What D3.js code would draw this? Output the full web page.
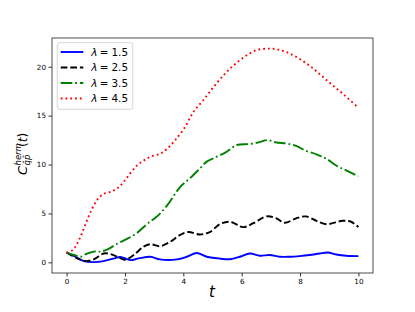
<!DOCTYPE html>
<html>
<head>
<meta charset="utf-8">
<script src="https://cdn.jsdelivr.net/npm/d3@7"></script>
<style>
  body { margin: 0; background: #fff; }
  svg { display: block; font-family: "DejaVu Sans", sans-serif; }
</style>
</head>
<body>
<svg id="chart" width="415" height="312"></svg>
<script>
// ---- data ----
const labels = ["1.5", "2.5", "3.5", "4.5"];
const colors = ["#0000ff", "#000000", "#008000", "#ff0000"];

const tBlue = [0, 0.31, 0.59, 0.93, 1.27, 1.62, 1.84, 2.18, 2.47, 2.87, 3.2, 3.78, 4.12, 4.46, 4.8, 5.2, 5.6, 5.94, 6.28, 6.62, 6.96, 7.3, 7.65, 7.99, 8.33, 8.67, 8.95, 9.24, 9.58, 10];
const vBlue = [1.0, 0.57, 0.13, 0.02, 0.13, 0.4, 0.55, 0.23, 0.4, 0.57, 0.3, 0.3, 0.57, 0.95, 0.57, 0.4, 0.32, 0.57, 0.9, 0.67, 0.75, 0.57, 0.57, 0.64, 0.75, 0.9, 1.0, 0.8, 0.67, 0.64];

const tBlack = [0, 0.36, 0.65, 0.93, 1.27, 1.5, 1.79, 2.0, 2.3, 2.64, 2.87, 3.2, 3.55, 3.89, 4.17, 4.57, 4.91, 5.25, 5.6, 6.05, 6.4, 6.85, 7.19, 7.47, 7.87, 8.2, 8.56, 8.9, 9.46, 9.75, 10];
const vBlack = [1.0, 0.4, 0.13, 0.3, 0.9, 0.85, 0.5, 0.25, 0.75, 1.6, 1.85, 1.65, 2.1, 2.8, 3.1, 2.85, 3.1, 3.9, 4.15, 3.6, 4.0, 4.7, 4.5, 4.05, 4.5, 4.7, 4.25, 3.9, 4.25, 4.15, 3.6];

const tGreen = [0, 0.25, 0.48, 0.7, 0.93, 1.16, 1.39, 1.73, 2.07, 2.41, 2.75, 3.1, 3.44, 3.89, 4.23, 4.57, 4.8, 5.14, 5.48, 5.83, 6.28, 6.62, 6.9, 7.19, 7.53, 7.87, 8.2, 8.56, 8.9, 9.24, 9.58, 10];
const vGreen = [1.0, 0.75, 0.57, 0.9, 1.1, 1.1, 1.3, 1.9, 2.4, 3.0, 3.9, 4.7, 5.8, 7.7, 8.6, 9.6, 10.3, 10.8, 11.3, 12.0, 12.1, 12.3, 12.5, 12.25, 12.15, 11.9, 11.4, 11.05, 10.6, 9.9, 9.4, 8.8];

const tRed = [0, 0.21, 0.36, 0.53, 0.7, 0.88, 1.05, 1.27, 1.5, 1.73, 1.95, 2.18, 2.41, 2.64, 2.87, 3.2, 3.44, 3.72, 4.03, 4.35, 4.69, 5.03, 5.37, 5.71, 6.11, 6.51, 6.87, 7.19, 7.53, 7.93, 8.33, 8.73, 9.12, 9.52, 10];
const vRed = [1.0, 1.25, 1.9, 3.0, 4.3, 5.5, 6.4, 7.0, 7.2, 7.55, 8.2, 9.1, 9.9, 10.4, 10.8, 11.1, 11.6, 12.5, 13.7, 15.4, 16.6, 17.9, 19.1, 20.1, 21.05, 21.7, 21.85, 21.8, 21.5, 20.9, 20.1, 19.1, 18.1, 17.1, 15.8];

const xTicks = [0, 2, 4, 6, 8, 10];
const yTicks = [0, 5, 10, 15, 20];

const series = [
  {t: tBlue, v: vBlue, dash: null},
  {t: tBlack, v: vBlack, dash: "6.7,2.9"},
  {t: tGreen, v: vGreen, dash: "11.6,2.9,1.8,2.9"},
  {t: tRed, v: vRed, dash: "1.8,3.0"}
];

// ---- layout ----
const L = 52, R = 373, T = 38, B = 273;
const svg = d3.select("#chart");

const x = d3.scaleLinear().domain([-0.5, 10.5]).range([L, R]);
const y = d3.scaleLinear().domain([-1.09, 22.94]).range([B, T]);

// axes
const xAxis = d3.axisBottom(x).tickValues(xTicks).tickFormat(d3.format("d")).tickSize(3.5).tickPadding(2.5);
const yAxis = d3.axisLeft(y).tickValues(yTicks).tickFormat(d3.format("d")).tickSize(3.5).tickPadding(2.5);

const gx = svg.append("g").attr("transform", `translate(0,${B})`).call(xAxis);
const gy = svg.append("g").attr("transform", `translate(${L},0)`).call(yAxis);
[gx, gy].forEach(g => {
  g.select(".domain").remove();
  g.selectAll("line").attr("stroke", "#000").attr("stroke-width", 0.8);
  g.selectAll("text").attr("font-size", 7.2).attr("fill", "#000").attr("font-family", "DejaVu Sans");
});

// lines
const line = d3.line().curve(d3.curveCatmullRom.alpha(0.5));
series.forEach((s, i) => {
  const pts = s.t.map((t, j) => [x(t), y(s.v[j])]);
  const p = svg.append("path")
    .attr("d", line(pts))
    .attr("fill", "none")
    .attr("stroke", colors[i])
    .attr("stroke-width", 1.9);
  if (s.dash) p.attr("stroke-dasharray", s.dash);
});

// frame
svg.append("rect").attr("x", L).attr("y", T).attr("width", R - L).attr("height", B - T)
  .attr("fill", "none").attr("stroke", "#222").attr("stroke-width", 0.8);

// legend
const lg = svg.append("g");
lg.append("rect").attr("x", 57.3).attr("y", 42.7).attr("width", 75.4).attr("height", 66.6)
  .attr("rx", 2.5).attr("fill", "#fff").attr("fill-opacity", 0.8)
  .attr("stroke", "#cccccc").attr("stroke-width", 0.8);
labels.forEach((lab, i) => {
  const cy = 52 + i * 15.5;
  const l = lg.append("line").attr("x1", 60.7).attr("x2", 83.3).attr("y1", cy).attr("y2", cy)
    .attr("stroke", colors[i]).attr("stroke-width", 1.9);
  if (series[i].dash) l.attr("stroke-dasharray", series[i].dash);
  const by = cy + 3.8;
  lg.append("text").attr("x", 91.3).attr("y", by).attr("font-size", 10.4).attr("font-style", "italic").text("λ");
  lg.append("text").attr("x", 99.8).attr("y", by).attr("font-size", 10.4).text("=");
  lg.append("text").attr("x", 111.5).attr("y", by).attr("font-size", 10.4).text(lab);
});

// x label
svg.append("text").attr("x", 212).attr("y", 297).attr("text-anchor", "middle")
  .attr("font-size", 15).attr("font-style", "italic").text("t");

// y label (rotated)
const yl = svg.append("g").attr("transform", "translate(27,154) rotate(-90)");
yl.append("text").attr("x", -21).attr("y", 0).attr("font-size", 13).attr("font-style", "italic").text("C");
yl.append("text").attr("x", -11.5).attr("y", -6).attr("font-size", 8.5).attr("font-style", "italic").text("herm");
yl.append("text").attr("x", -11.5).attr("y", 2.5).attr("font-size", 8.5).attr("font-style", "italic").text("q̂p̂");
const yt = yl.append("text").attr("x", 7).attr("y", 0).attr("font-size", 12);
yt.append("tspan").text("(");
yt.append("tspan").attr("font-style", "italic").text("t");
yt.append("tspan").text(")");
</script>
</body>
</html>
